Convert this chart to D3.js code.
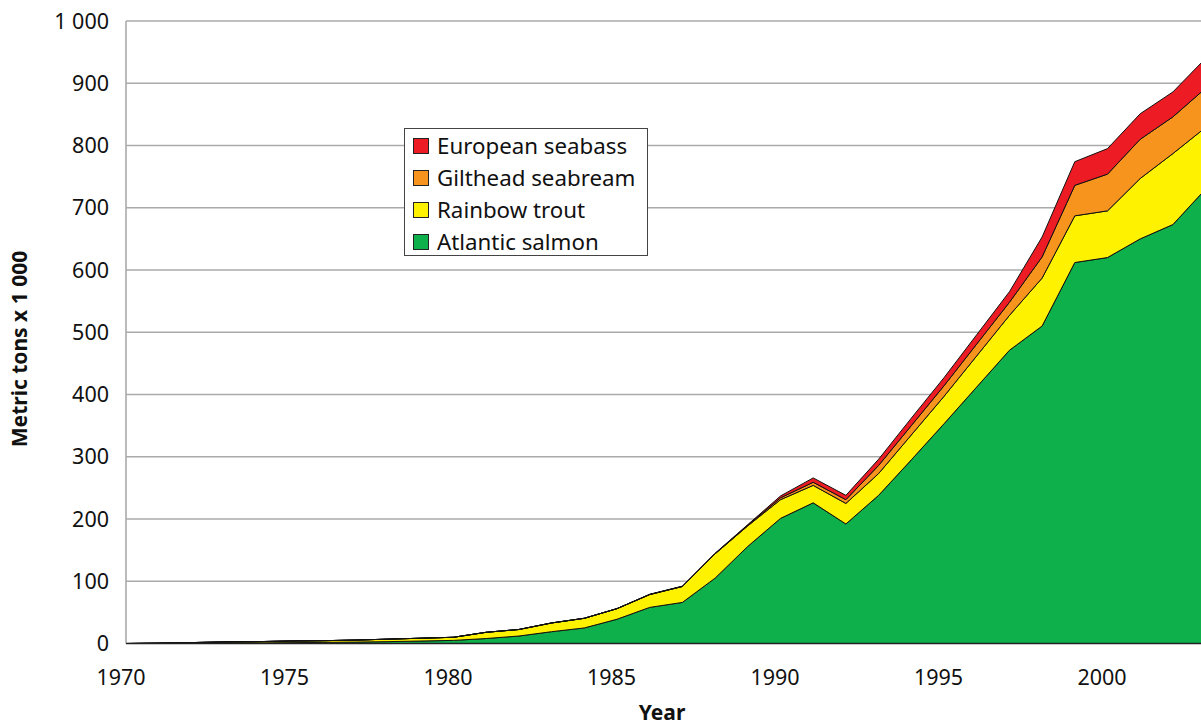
<!DOCTYPE html>
<html>
<head>
<meta charset="utf-8">
<script src="https://cdn.jsdelivr.net/npm/d3@7"></script>
<style>
  html, body { margin: 0; padding: 0; background: #fff; overflow: hidden; }
  svg { display: block; font-family: "Noto Sans", "Open Sans", sans-serif; }
</style>
</head>
<body>
<svg id="chart" width="1201" height="726"></svg>
<script>
// ---- data ----
const years = d3.range(1970, 2004);
const atlanticSalmon = [0, 0.3, 0.5, 0.8, 1, 1.3, 1.8, 2.3, 3, 4, 5, 8, 12, 19, 25, 39, 58, 66, 105, 156, 201, 226, 192, 238, 295, 353, 412, 471, 510, 612, 620, 650, 673, 730];
const rainbowTrout   = [0, 0.2, 1, 1.7, 2, 2.7, 2.7, 3.2, 4, 4.5, 5, 10, 10.5, 14, 15.5, 17, 20.5, 25.5, 39, 33, 30, 28, 33, 35, 40, 44, 50, 56, 77, 75, 75, 97, 114, 99];
const giltheadSeabream = [0, 0, 0, 0, 0, 0, 0, 0, 0, 0, 0, 0, 0, 0, 0, 0, 0.3, 0.3, 0.5, 1, 3, 5, 6, 13, 15, 17, 19, 21, 34, 49, 59, 63, 59, 63];
const europeanSeabass  = [0, 0, 0, 0, 0, 0, 0, 0, 0, 0, 0, 0, 0, 0, 0, 0, 0.3, 0.3, 0.5, 1, 3, 7, 7, 10, 12, 13, 15, 17, 32, 38, 41, 41, 40, 48];
const seriesNames = ["Atlantic salmon", "Rainbow trout", "Gilthead seabream", "European seabass"];
const seriesColors = ["#0db04b", "#fff200", "#f7941d", "#ed1c24"];
const xTicks = [1970, 1975, 1980, 1985, 1990, 1995, 2000];
const yTicks = [0, 100, 200, 300, 400, 500, 600, 700, 800, 900, 1000];
const yTickLabels = ["0", "100", "200", "300", "400", "500", "600", "700", "800", "900", "1 000"];
const yTitle = "Metric tons x 1 000";
const xTitle = "Year";

// ---- build table ----
const seriesValues = [atlanticSalmon, rainbowTrout, giltheadSeabream, europeanSeabass];
const table = years.map((yr, i) => {
  const row = { year: yr };
  seriesNames.forEach((n, k) => row[n] = seriesValues[k][i]);
  return row;
});
const stacked = d3.stack().keys(seriesNames)(table);

const svg = d3.select("#chart");
const x = d3.scaleLinear().domain([1970, 2003]).range([126.5, 1205.6]);
const y = d3.scaleLinear().domain([0, 1000]).range([643.5, 21]);
const plotLeft = 126, plotRight = 1201;

// gridlines
svg.append("g").selectAll("line").data(yTicks.filter(d => d > 0)).join("line")
  .attr("x1", plotLeft).attr("x2", plotRight)
  .attr("y1", d => y(d)).attr("y2", d => y(d))
  .attr("stroke", "#aaaaaa").attr("stroke-width", 1.6);

// y axis line
svg.append("line").attr("x1", plotLeft).attr("x2", plotLeft)
  .attr("y1", y(1000)).attr("y2", y(0))
  .attr("stroke", "#aaaaaa").attr("stroke-width", 1.6);

// areas
const area = d3.area()
  .x(d => x(d.data.year))
  .y0(d => y(d[0]))
  .y1(d => y(d[1]));
svg.append("g").selectAll("path").data(stacked).join("path")
  .attr("d", area)
  .attr("fill", (d, i) => seriesColors[i])
  .attr("stroke", "#111")
  .attr("stroke-width", 1)
  .attr("stroke-linejoin", "round");

// baseline
svg.append("line").attr("x1", plotLeft).attr("x2", plotRight)
  .attr("y1", y(0)).attr("y2", y(0))
  .attr("stroke", "#222").attr("stroke-width", 1.5);

// y tick labels
svg.append("g").selectAll("text").data(yTicks).join("text")
  .attr("x", 109).attr("y", d => y(d))
  .attr("dy", "0.35em")
  .attr("text-anchor", "end")
  .attr("font-size", 21.5)
  .attr("fill", "#111")
  .text((d, i) => yTickLabels[i]);

// x tick labels
svg.append("g").selectAll("text").data(xTicks).join("text")
  .attr("x", d => x(d) - 5.5).attr("y", 685)
  .attr("text-anchor", "middle")
  .attr("font-size", 21.5)
  .attr("fill", "#111")
  .text(d => d);

// axis titles
svg.append("text")
  .attr("transform", "translate(27,349) rotate(-90)")
  .attr("text-anchor", "middle")
  .attr("font-size", 21).attr("font-weight", "bold").attr("fill", "#111")
  .text(yTitle);
svg.append("text")
  .attr("x", 662).attr("y", 720)
  .attr("text-anchor", "middle")
  .attr("font-size", 21).attr("font-weight", "bold").attr("fill", "#111")
  .text(xTitle);

// legend
const lg = svg.append("g");
lg.append("rect").attr("x", 404.5).attr("y", 128.5).attr("width", 243).attr("height", 127)
  .attr("fill", "#fff").attr("stroke", "#444").attr("stroke-width", 1);
const legendOrder = [3, 2, 1, 0];
legendOrder.forEach((k, r) => {
  const cy = 146 + r * 32;
  lg.append("rect").attr("x", 413.5).attr("y", cy - 7.5).attr("width", 15).attr("height", 15)
    .attr("fill", seriesColors[k]).attr("stroke", "#222").attr("stroke-width", 1);
  lg.append("text").attr("x", 437).attr("y", cy).attr("dy", "0.36em")
    .attr("font-size", 22.3).attr("fill", "#111").text(seriesNames[k]);
});
</script>
</body>
</html>
